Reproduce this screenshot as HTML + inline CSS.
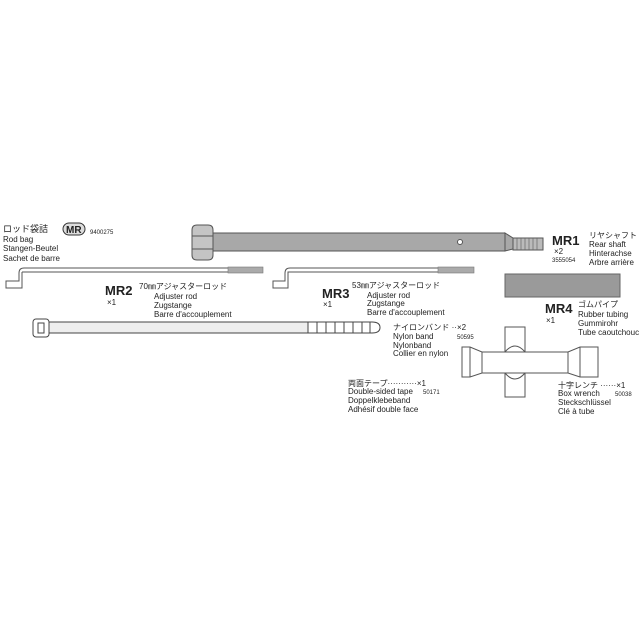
<!DOCTYPE html>
<html><head><meta charset="utf-8"><style>
html,body{margin:0;padding:0;background:#fff;}
svg{display:block}
text{font-family:"Liberation Sans","Noto Sans CJK JP",sans-serif;fill:#222;}
.t{font-size:8px}
.s{font-size:6px}
.b{font-size:13px;font-weight:bold}
</style></head><body>
<svg width="640" height="640" viewBox="0 0 640 640" xmlns="http://www.w3.org/2000/svg">
<rect width="640" height="640" fill="#fff"/>
<!-- Rear shaft -->
<g stroke="#555" stroke-width="1" fill="#a8a8a8">
<rect x="213" y="233" width="292" height="18"/>
<path d="M505 233 L513 238 L513 249 L505 251 Z"/>
<rect x="513" y="238" width="30" height="12" fill="#bbb"/>
<path d="M192 230 Q192 225 197 225 L208 225 Q213 225 213 230 L213 255 Q213 260 208 260 L197 260 Q192 260 192 255 Z" fill="#c4c4c4"/>
<line x1="192" y1="236" x2="213" y2="236"/><line x1="192" y1="249" x2="213" y2="249"/>
<circle cx="460" cy="242" r="2.5" fill="#fff"/>
</g>
<g stroke="#666" stroke-width="0.7">
<line x1="517" y1="238" x2="517" y2="250"/><line x1="521" y1="238" x2="521" y2="250"/><line x1="525" y1="238" x2="525" y2="250"/><line x1="529" y1="238" x2="529" y2="250"/><line x1="533" y1="238" x2="533" y2="250"/><line x1="537" y1="238" x2="537" y2="250"/>
</g>
<!-- rods -->
<g fill="#fff" stroke="#555" stroke-width="1">
<path d="M263 268 L24 268 Q19 268 19 273 L19 281 L6 281 L6 288 L20 288 M22 272 L263 272 M22 272 L22 288 L20 288"/>
<path d="M474 268 L290 268 Q285 268 285 273 L285 281 L273 281 L273 288 L288 288 L288 272 L474 272"/>
</g>
<rect x="228" y="267" width="35" height="6" fill="#aaa" stroke="#777" stroke-width="0.6"/>
<rect x="438" y="267" width="36" height="6" fill="#aaa" stroke="#777" stroke-width="0.6"/>
<!-- rubber tube -->
<rect x="505" y="274" width="115" height="23" fill="#9a9a9a" stroke="#666"/>
<!-- nylon band -->
<g stroke="#444" fill="#fff" stroke-width="1">
<rect x="49" y="322" width="259" height="11" fill="#eee"/>
<path d="M308 322 L372 322 Q380 322 380 327.5 Q380 333 372 333 L308 333 Z"/>
<rect x="33" y="319" width="16" height="18" rx="3"/>
<rect x="38" y="323" width="6" height="10"/>
<line x1="317" y1="322" x2="317" y2="333"/><line x1="326" y1="322" x2="326" y2="333"/><line x1="335" y1="322" x2="335" y2="333"/><line x1="344" y1="322" x2="344" y2="333"/><line x1="353" y1="322" x2="353" y2="333"/><line x1="362" y1="322" x2="362" y2="333"/><line x1="370" y1="322" x2="370" y2="333"/>
</g>
<!-- wrench -->
<g stroke="#555" fill="#fff" stroke-width="1">
<rect x="505" y="327" width="20" height="70"/>
<path d="M462 347 L470 347 L482 352 L568 352 L580 347 L598 347 L598 377 L580 377 L568 373 L482 373 L470 377 L462 377 Z"/>
<path d="M505 352 Q515 340 525 352" fill="none"/>
<path d="M505 373 Q515 385 525 373" fill="none"/>
<line x1="470" y1="347" x2="470" y2="377"/><line x1="482" y1="352" x2="482" y2="373"/><line x1="568" y1="352" x2="568" y2="373"/><line x1="580" y1="347" x2="580" y2="377"/>
</g>
<!-- texts -->
<text x="3" y="232" style="font-size:9px">ロッド袋詰</text>
<rect x="63" y="223" width="22" height="12" rx="6" fill="#ddd" stroke="#333"/>
<text x="66" y="233" style="font-size:10px;font-weight:bold">MR</text>
<text x="90" y="234" class="s">9400275</text>
<text x="3" y="242" class="t">Rod bag</text>
<text x="3" y="251" class="t">Stangen-Beutel</text>
<text x="3" y="261" class="t">Sachet de barre</text>

<text x="105" y="295" class="b">MR2</text>
<text x="107" y="305" class="t">×1</text>
<text x="139" y="289" class="t">70㎜アジャスターロッド</text>
<text x="154" y="299" class="t">Adjuster rod</text>
<text x="154" y="308" class="t">Zugstange</text>
<text x="154" y="317" class="t">Barre d'accouplement</text>

<text x="322" y="298" class="b">MR3</text>
<text x="323" y="307" class="t">×1</text>
<text x="352" y="288" class="t">53㎜アジャスターロッド</text>
<text x="367" y="298" class="t">Adjuster rod</text>
<text x="367" y="306" class="t">Zugstange</text>
<text x="367" y="315" class="t">Barre d'accouplement</text>

<text x="552" y="245" class="b">MR1</text>
<text x="554" y="254" class="t">×2</text>
<text x="552" y="262" class="s">3555054</text>
<text x="589" y="238" class="t">リヤシャフト</text>
<text x="589" y="247" class="t">Rear shaft</text>
<text x="589" y="256" class="t">Hinterachse</text>
<text x="589" y="265" class="t">Arbre arrière</text>

<text x="545" y="313" class="b">MR4</text>
<text x="546" y="323" class="t">×1</text>
<text x="578" y="307" class="t">ゴムパイプ</text>
<text x="578" y="317" class="t">Rubber tubing</text>
<text x="578" y="326" class="t">Gummirohr</text>
<text x="578" y="335" class="t">Tube caoutchouc</text>

<text x="393" y="330" class="t">ナイロンバンド ··×2</text>
<text x="393" y="339" class="t">Nylon band</text>
<text x="457" y="339" class="s">50595</text>
<text x="393" y="348" class="t">Nylonband</text>
<text x="393" y="356" class="t">Collier en nylon</text>

<text x="348" y="386" class="t">両面テープ···········×1</text>
<text x="348" y="394" class="t">Double-sided tape</text>
<text x="423" y="394" class="s">50171</text>
<text x="348" y="403" class="t">Doppelklebeband</text>
<text x="348" y="412" class="t">Adhésif double face</text>

<text x="558" y="388" class="t">十字レンチ ······×1</text>
<text x="558" y="396" class="t">Box wrench</text>
<text x="615" y="396" class="s">50038</text>
<text x="558" y="405" class="t">Steckschlüssel</text>
<text x="558" y="414" class="t">Clé à tube</text>
</svg>
</body></html>
